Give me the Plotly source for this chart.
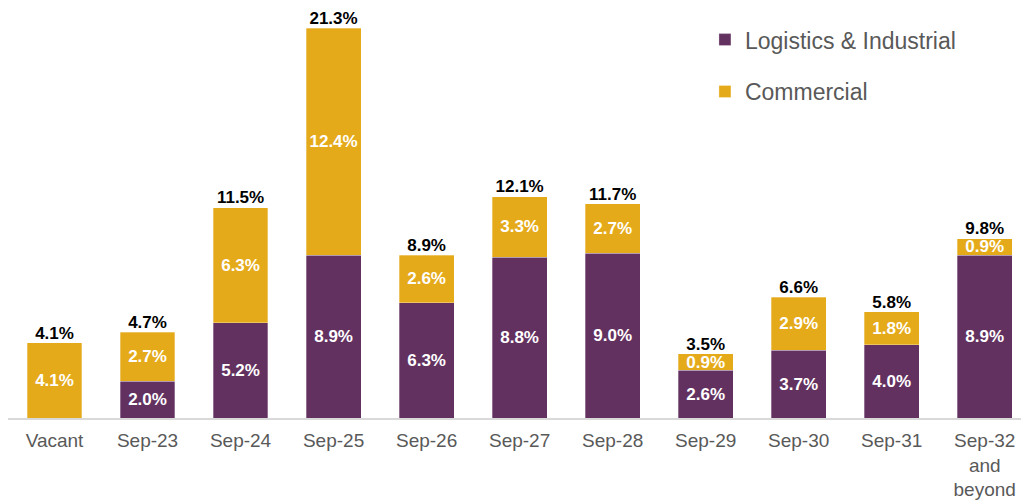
import plotly.graph_objects as go

categories = ["Vacant", "Sep-23", "Sep-24", "Sep-25", "Sep-26", "Sep-27",
              "Sep-28", "Sep-29", "Sep-30", "Sep-31", "Sep-32<br>and<br>beyond"]
logistics = [0, 2.0, 5.2, 8.9, 6.3, 8.8, 9.0, 2.6, 3.7, 4.0, 8.9]
commercial = [4.1, 2.7, 6.3, 12.4, 2.6, 3.3, 2.7, 0.9, 2.9, 1.8, 0.9]
totals = [4.1, 4.7, 11.5, 21.3, 8.9, 12.1, 11.7, 3.5, 6.6, 5.8, 9.8]

PURPLE = "#633160"
GOLD = "#E5AA1A"
FONT = "Liberation Sans, Arial, sans-serif"

fig = go.Figure()
fig.add_trace(go.Bar(
    x=categories, y=logistics, name="Logistics & Industrial",
    marker=dict(color=PURPLE, line=dict(color="rgba(255,255,255,0.6)", width=0.5)),
    text=[f"{v:.1f}%" if v > 0 else "" for v in logistics],
    textposition="inside", insidetextanchor="middle", textangle=0,
    textfont=dict(color="white", size=17, family=FONT, weight="bold"),
    width=0.59, legendgroup="a",
))
fig.add_trace(go.Bar(
    x=categories, y=commercial, name="Commercial",
    marker=dict(color=GOLD, line=dict(color="rgba(255,255,255,0.6)", width=0.5)),
    text=[f"{v:.1f}%" for v in commercial],
    textposition="inside", insidetextanchor="middle", textangle=0,
    textfont=dict(color="white", size=17, family=FONT, weight="bold"),
    width=0.59, legendgroup="b",
))
fig.add_trace(go.Scatter(
    x=categories, y=totals, mode="text",
    text=[f"{v:.1f}%" for v in totals],
    textposition="top center",
    textfont=dict(color="black", size=17, family=FONT, weight="bold"),
    showlegend=False, hoverinfo="skip", cliponaxis=False,
))

fig.update_layout(
    barmode="stack",
    width=1021, height=503,
    margin=dict(l=8, r=0, t=10, b=85),
    paper_bgcolor="white", plot_bgcolor="white",
    font=dict(family=FONT, color="#595959"),
    uniformtext=dict(minsize=17, mode="show"),
    legend=dict(
        x=0.688, y=0.98, xanchor="left", yanchor="top",
        font=dict(size=23, color="#595959", family=FONT),
        traceorder="grouped", tracegroupgap=19,
        bgcolor="rgba(0,0,0,0)",
    ),
    xaxis=dict(
        range=[-0.5, 10.39], showgrid=False, showline=True,
        linecolor="#D9D9D9", linewidth=2, ticks="",
        ticklabelstandoff=4, automargin=False,
        tickfont=dict(size=19, color="#595959", family=FONT),
    ),
    yaxis=dict(range=[0, 22.3], visible=False, showgrid=False, automargin=False),
)

fig.write_html("out.html", config={"displayModeBar": False},
               post_script="document.body.style.margin='0';")
